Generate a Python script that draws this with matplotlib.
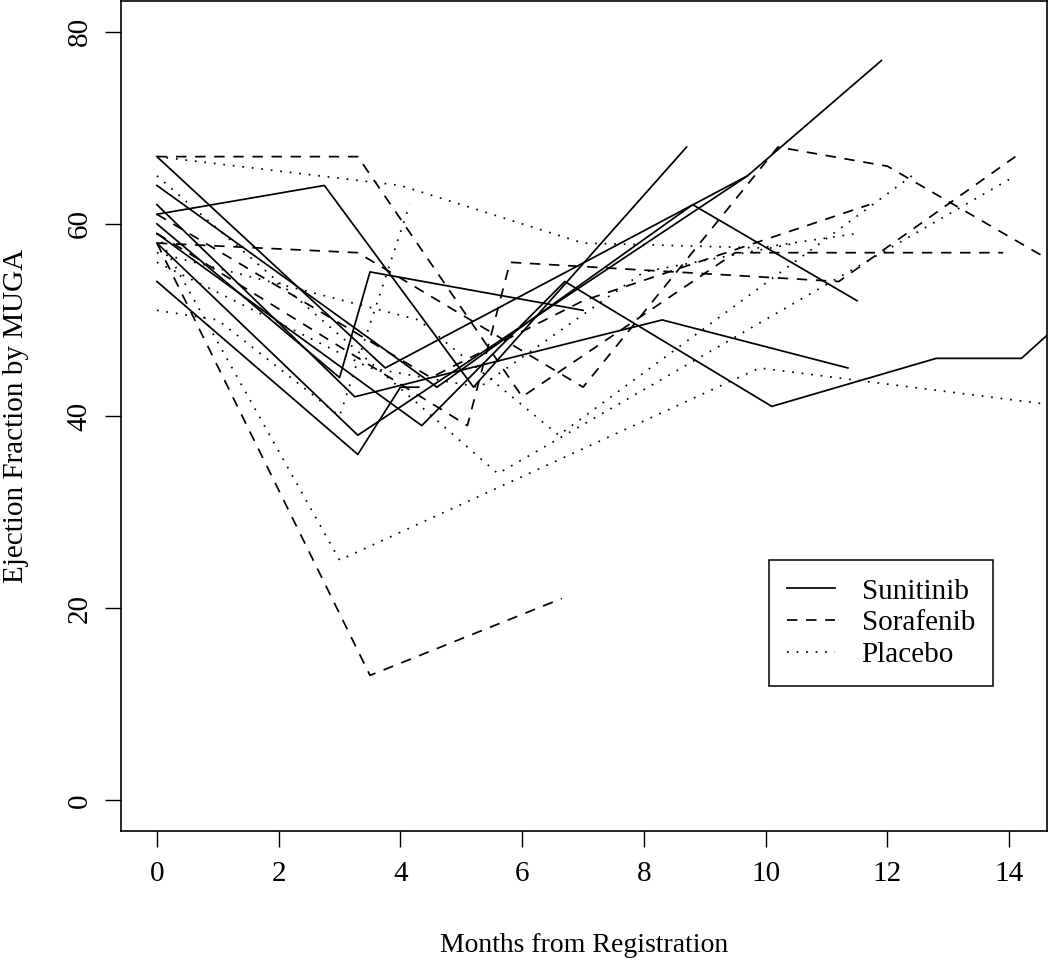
import numpy as np
import matplotlib.pyplot as plt

plt.rcParams["font.family"] = ["Liberation Serif", "DejaVu Serif"]

# Sunitinib (solid)
sun_x = [
    [0, 3.75, 9.7],
    [0, 2.75, 5.2, 8.7],
    [0, 4.6, 8.8, 11.5],
    [0, 3.25, 8.3, 11.35],
    [0, 3.0, 3.5, 7.0],
    [0, 3.3, 4.0, 4.3],
    [0, 4.35, 6.7, 10.1, 12.8, 14.2, 14.9],
    [0, 3.3, 9.7, 11.9],
]
sun_y = [
    [67, 45, 65],
    [61, 64, 43, 68],
    [64, 43, 62, 52],
    [62, 42, 50, 45],
    [60, 44, 55, 51],
    [54, 36, 43, 43],
    [59, 39, 54, 41, 46, 46, 50],
    [58, 38, 65, 77],
]

# Sorafenib (dashed)
sor_x = [
    [0, 3.3, 6.0, 9.5, 13.9],
    [0, 3.3, 7.0, 10.2, 12.0, 15.0],
    [0, 5.1, 5.8, 11.2, 14.1],
    [0, 3.5, 6.65],
    [0, 4.5, 7.0, 11.7],
]
sor_y = [
    [67, 67, 42, 57, 57],
    [58, 57, 43, 68, 66, 55],
    [59, 39, 56, 54, 67],
    [58, 13, 21],
    [61, 44, 52, 62],
]

# Placebo (dotted)
pla_x = [
    [0, 4.0, 7.0, 9.9, 11.5],
    [0, 3.0, 9.9, 14.9],
    [0, 5.6, 14.1],
    [0, 4.3, 6.6, 12.4],
    [0, 1.0, 3.0, 4.15],
    [0, 3.5, 5.3, 8.0, 10.5],
]
pla_y = [
    [67, 64, 58, 57.5, 59],
    [59, 25, 45, 41],
    [65, 34, 65],
    [57, 50, 38, 65],
    [51, 50, 40, 62],
    [56, 45, 43, 55, 58],
]

groups = ["Sunitinib", "Sorafenib", "Placebo"]
styles = ["-", (0, (6, 5)), (0, (1, 4.5))]

fig = plt.figure(figsize=(10.5, 9.6), dpi=100)
ax = fig.add_axes([121 / 1050, 1 - 831 / 960, 926 / 1050, 830 / 960])

for xs, ys, ls, lab in zip([sun_x, sor_x, pla_x], [sun_y, sor_y, pla_y], styles, groups):
    for i in range(len(xs)):
        ax.plot(xs[i], ys[i], color="black", linestyle=ls, linewidth=1.25,
                label=lab if i == 0 else None)

ax.set_xlim(-0.59, 14.62)
ax.set_ylim(-3.2, 83.2)
ax.set_xticks(np.arange(0, 15, 2))
ax.set_yticks(np.arange(0, 81, 20))
ax.tick_params(direction="out", length=11.5, width=1, labelsize=21)
ax.tick_params(axis="x", pad=10)
ax.tick_params(axis="y", pad=9)
for lbl in ax.get_yticklabels():
    lbl.set_rotation(90)
    lbl.set_va("center")
for s in ax.spines.values():
    s.set_linewidth(1.2)

ax.set_xlabel("Months from Registration", fontsize=20, labelpad=33)
ax.set_ylabel("Ejection Fraction by MUGA", fontsize=21, labelpad=27)

leg = ax.legend(loc="upper left", bbox_to_anchor=(0.70, 0.3265), borderaxespad=0,
                fontsize=21, frameon=True, fancybox=False, edgecolor="black",
                framealpha=1, handlelength=1.65, borderpad=0.62, labelspacing=0.18,
                handletextpad=0.9)
leg.get_frame().set_linewidth(1.1)

fig.savefig("out.png", dpi=100)
